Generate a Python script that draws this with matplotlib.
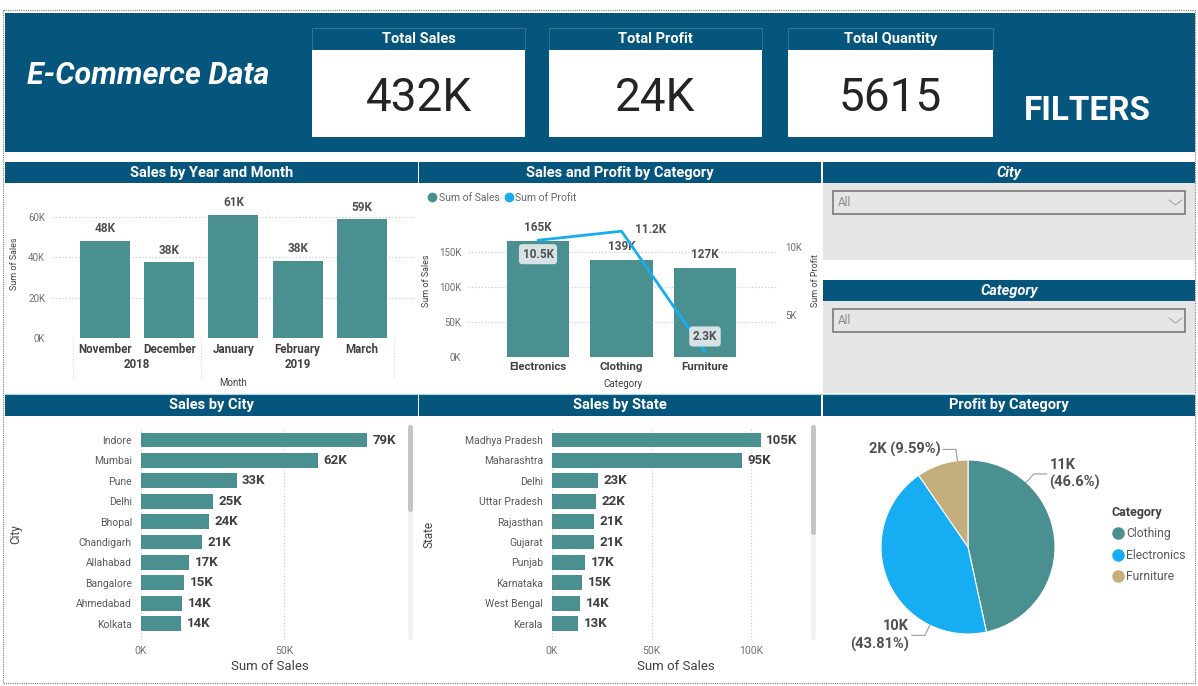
import matplotlib
matplotlib.use("Agg")
import matplotlib.pyplot as plt
from matplotlib.patches import Rectangle, FancyBboxPatch
from matplotlib.lines import Line2D
import numpy as np

plt.rcParams['font.family'] = ['Roboto', 'DejaVu Sans']

# ---- data ----
kpi_titles = ['Total Sales', 'Total Profit', 'Total Quantity']
kpi_values = ['432K', '24K', '5615']

months = ['November', 'December', 'January', 'February', 'March']
month_years = ['2018', '2018', '2019', '2019', '2019']
month_sales = [48.2, 37.6, 61.2, 38.3, 58.9]  # thousands

categories = ['Electronics', 'Clothing', 'Furniture']
cat_sales = [165.3, 138.7, 127.2]  # thousands
cat_profit = [10494, 11163, 2298]

cities = ['Indore', 'Mumbai', 'Pune', 'Delhi', 'Bhopal', 'Chandigarh',
          'Allahabad', 'Bangalore', 'Ahmedabad', 'Kolkata']
city_sales = [79.0, 61.9, 33.4, 25.2, 23.8, 21.3, 16.8, 15.0, 14.3, 14.0]

states = ['Madhya Pradesh', 'Maharashtra', 'Delhi', 'Uttar Pradesh', 'Rajasthan',
          'Gujarat', 'Punjab', 'Karnataka', 'West Bengal', 'Kerala']
state_sales = [104.8, 95.4, 22.9, 22.1, 21.1, 21.0, 16.6, 15.1, 14.1, 13.3]

pie_cats = ['Clothing', 'Electronics', 'Furniture']
pie_profit = [11163, 10494, 2298]

# ---- style ----
BLUE = '#05557d'
TEAL = '#4a9091'
LBLUE = '#16adf2'
TAN = '#c4ae7c'
TICK = '#707070'
LBL = '#404040'
SLICER = '#e6e6e6'

W, H = 1198, 686
fig = plt.figure(figsize=(W / 100, H / 100), dpi=100)
bg = fig.add_axes([0, 0, 1, 1])
bg.set_xlim(0, W)
bg.set_ylim(H, 0)
bg.axis('off')


def px_axes(x0, y0, x1, y1):
    return fig.add_axes([x0 / W, 1 - y1 / H, (x1 - x0) / W, (y1 - y0) / H])


def rect(x0, y0, x1, y1, **kw):
    bg.add_patch(Rectangle((x0, y0), x1 - x0, y1 - y0, **kw))


def kfmt(v):
    return f'{v:.0f}K'


# header
rect(5, 13, 1195, 152, fc=BLUE, ec='none')
bg.text(27, 75, 'E-Commerce Data', color='white', fontsize=22, weight='bold',
        style='italic', va='center')
bg.text(1024, 111, 'FILTERS', color='white', fontsize=24, weight='bold', va='center')
kpi_x = [(312, 525), (549, 762), (788, 993)]
for (x0, x1), t, v in zip(kpi_x, kpi_titles, kpi_values):
    rect(x0, 28, x1, 50, fc=BLUE, ec='#4a7f9f', lw=0.5)
    rect(x0, 50, x1, 137, fc='white', ec='none')
    bg.text((x0 + x1) / 2, 39, t, color='white', fontsize=10.5, weight='bold',
            ha='center', va='center')
    bg.text((x0 + x1) / 2, 98, v, color='#252423', fontsize=33,
            ha='center', va='center')

# title bars
bars_row1 = [(5, 418, 'Sales by Year and Month', 'normal'),
             (419, 821, 'Sales and Profit by Category', 'normal'),
             (823, 1195, 'City', 'italic')]
bars_row2 = [(5, 418, 'Sales by City', 'normal'),
             (419, 821, 'Sales by State', 'normal'),
             (823, 1195, 'Profit by Category', 'normal')]
for y0, row in [(162, bars_row1), (395, bars_row2)]:
    for x0, x1, t, st in row:
        rect(x0, y0, x1, y0 + 21, fc=BLUE, ec='none')
        bg.text((x0 + x1) / 2, y0 + 10.5, t, color='white', fontsize=10.5,
                weight='bold', style=st, ha='center', va='center')

# slicers
rect(823, 183, 1195, 260, fc=SLICER, ec='none')
rect(823, 280, 1195, 301, fc=BLUE, ec='none')
bg.text(1009, 290.5, 'Category', color='white', fontsize=10.5, weight='bold',
        style='italic', ha='center', va='center')
rect(823, 301, 1195, 393, fc=SLICER, ec='none')
for y0 in (191, 309):
    rect(833, y0, 1185, y0 + 23, fc=SLICER, ec='#7a7a7a', lw=1.2)
    bg.text(838, y0 + 12, 'All', color='#8a8a8a', fontsize=8.5, va='center')
    bg.plot([1169, 1175.5, 1182], [y0 + 9, y0 + 14, y0 + 9], color='#a0a0a0', lw=0.7)

bg.plot([5, 1195], [393.5, 393.5], color='#a9d6e0', lw=0.8)
bg.add_patch(Rectangle((3, 10), 1192, 673, fill=False, ec='#7a7a7a', lw=0.8,
                       ls=(0, (1, 1))))


def clean(ax):
    for s in ax.spines.values():
        s.set_visible(False)
    ax.tick_params(length=0)
    ax.set_facecolor('none')


# ---- Sales by Year and Month ----
ax1 = px_axes(52, 190, 415, 338)
x1 = np.arange(len(months))
ax1.bar(x1, month_sales, width=0.78, color=TEAL, zorder=2)
ax1.set_xlim(-(105 - 52) / 64.2, (415 - 105) / 64.2)
ax1.set_ylim(0, 60 * (338 - 190) / 121)
ax1.set_yticks([0, 20, 40, 60])
ax1.set_yticklabels(['0K', '20K', '40K', '60K'], fontsize=7, color=TICK)
ax1.set_xticks(x1)
ax1.set_xticklabels(months, fontsize=8.3, color=LBL, weight='semibold')
clean(ax1)
ax1.tick_params(axis='x', pad=3.5)
ax1.tick_params(axis='y', pad=5)
ax1.grid(axis='y', ls=(0, (1, 2)), color='#c8c8c8', lw=0.8, zorder=0)
for xi, v in zip(x1, month_sales):
    ax1.annotate(kfmt(v), (xi, v), xytext=(0, 4), textcoords='offset points',
                 ha='center', va='bottom', fontsize=8.5, weight='bold', color='#505050')
tr = ax1.get_xaxis_transform()
for yr in sorted(set(month_years)):
    idx = [i for i, y in enumerate(month_years) if y == yr]
    ax1.text(np.mean(idx), -0.176, yr, transform=tr, ha='center', va='center',
             fontsize=8.3, color=LBL, weight='semibold')
for xb in (-0.5, 1.5, 4.5):
    ax1.plot([xb, xb], [0, -0.27], transform=tr, clip_on=False,
             color='#d0d0d0', lw=0.7, ls=(0, (1, 2)))
ax1.set_xlabel('Month', fontsize=7, color=LBL)
ax1.xaxis.set_label_coords(0.5, -0.27)
ax1.set_ylabel('Sum of Sales', fontsize=6.5, color=LBL)
ax1.yaxis.set_label_coords(-0.09, 0.5)

# ---- Sales and Profit by Category ----
ax2 = px_axes(468, 205, 778, 357)
x2 = np.arange(len(categories))
ax2.bar(x2, cat_sales, width=0.75, color=TEAL, zorder=2)
ax2.set_xlim(-(538 - 468) / 83.5, (778 - 538) / 83.5)
ax2.set_ylim(0, 150 * (357 - 205) / 105)
ax2.set_yticks([0, 50, 100, 150])
ax2.set_yticklabels(['0K', '50K', '100K', '150K'], fontsize=7, color=TICK)
ax2.set_xticks(x2)
ax2.set_xticklabels(categories, fontsize=8.2, color=LBL, weight='semibold')
clean(ax2)
ax2.tick_params(axis='x', pad=3.5)
ax2.tick_params(axis='y', pad=5)
ax2.grid(axis='y', ls=(0, (1, 2)), color='#c8c8c8', lw=0.8, zorder=0)
for xi, v in zip(x2, cat_sales):
    ax2.annotate(kfmt(v), (xi, v), xytext=(0, 5), textcoords='offset points',
                 ha='center', va='bottom', fontsize=8.5, weight='bold', color='#505050')
ax2.set_xlabel('Category', fontsize=7, color=LBL)
ax2.xaxis.set_label_coords(0.5, -0.145)
ax2.set_ylabel('Sum of Sales', fontsize=6.5, color=LBL)
ax2.yaxis.set_label_coords(-0.12, 0.5)

ax2r = ax2.twinx()
profit_k = np.array(cat_profit) / 1000
ax2r.plot(x2, profit_k, color=LBLUE, lw=2, solid_capstyle='round', zorder=3)
ax2r.set_ylim((383 - 357) / 13.6, (383 - 205) / 13.6)
ax2r.set_yticks([5, 10])
ax2r.set_yticklabels(['5K', '10K'], fontsize=7, color=TICK)
clean(ax2r)
ax2r.tick_params(axis='y', pad=5)
ax2r.set_ylabel('Sum of Profit', fontsize=6.5, color=LBL)
ax2r.yaxis.set_label_coords(1.105, 0.5)
profit_offsets = [(0, -10, 'center'), (10, 1, 'left'), (0, 11, 'center')]
profit_boxed = [True, False, True]
for xi, v, (dx, dy, ha), boxed in zip(x2, profit_k, profit_offsets, profit_boxed):
    bb = dict(boxstyle='round,pad=0.3', fc='#d7e2e6', ec='none') if boxed else None
    ax2r.annotate(f'{v:.1f}K', (xi, v), xytext=(dx, dy), textcoords='offset points',
                  ha=ha, va='center', fontsize=8.5, weight='bold', color='#505050',
                  bbox=bb, zorder=4)
leg_h = [Line2D([], [], marker='o', ls='', color=TEAL, ms=6),
         Line2D([], [], marker='o', ls='', color=LBLUE, ms=6)]
ax2r.legend(leg_h, ['Sum of Sales', 'Sum of Profit'], loc='center left',
            bbox_to_anchor=(421 / W, 1 - 198 / H), bbox_transform=fig.transFigure,
            ncol=2, frameon=False, fontsize=7.5, labelcolor='#666666',
            handletextpad=0.0, columnspacing=0.3, handlelength=1.2, borderpad=0)


# ---- horizontal bar charts ----
def hbar(box, names, vals, xmax_px50, ticks, ylabel, ylabel_x, scroll_x, thumb_end):
    x0, y0, x1, y1 = box
    ax = px_axes(x0, y0, x1, y1)
    y = np.arange(len(names))
    ax.barh(y, vals, height=0.73, color=TEAL, zorder=2)
    ax.set_ylim((y1 - 440) / 20.4, (y0 - 440) / 20.4)
    ax.set_xlim(0, 50 * (x1 - x0) / xmax_px50)
    ax.set_yticks(y)
    ax.set_yticklabels(names, fontsize=7.5, color='#5a5a5a')
    ax.set_xticks(ticks)
    ax.set_xticklabels([kfmt(t) for t in ticks], fontsize=7.5, color=TICK)
    clean(ax)
    ax.tick_params(axis='y', pad=6.5)
    ax.tick_params(axis='x', pad=4)
    ax.grid(axis='x', ls=(0, (1, 2)), color='#c8c8c8', lw=0.8, zorder=0)
    for yi, v in zip(y, vals):
        ax.annotate(kfmt(v), (v, yi), xytext=(4, 0), textcoords='offset points',
                    ha='left', va='center', fontsize=9.5, weight='bold', color=LBL)
    ax.set_xlabel('Sum of Sales', fontsize=9.5, color=LBL)
    ax.xaxis.set_label_coords(0.49, -0.095)
    ax.set_ylabel(ylabel, fontsize=8.5, color=LBL)
    ax.yaxis.set_label_coords(ylabel_x, 0.5)
    bg.add_patch(FancyBboxPatch((scroll_x, 425), 5, 215, boxstyle='round,pad=0,rounding_size=2.5',
                                fc='#f2f2f2', ec='none'))
    bg.add_patch(FancyBboxPatch((scroll_x, 425), 5, thumb_end - 425,
                                boxstyle='round,pad=0,rounding_size=2.5',
                                fc='#c4c4c4', ec='none'))
    return ax


hbar((141, 428, 405, 640), cities, city_sales, 143, [0, 50], 'City', -0.45, 408, 512)
hbar((552, 428, 805, 640), states, state_sales, 99.5, [0, 50, 100], 'State', -0.46, 811, 535)

# ---- Profit by Category pie ----
ax5 = px_axes(881, 460, 1055, 634)
ax5.pie(pie_profit, colors=[TEAL, LBLUE, TAN], startangle=90, counterclock=False,
        wedgeprops=dict(ec='white', lw=0.8))
ax5.set_xlim(-1, 1)
ax5.set_ylim(-1, 1)
total = sum(pie_profit)
label_angles = [48, 244, 97]
label_seps = ['\n', '\n', ' ']
for v, ang, sep in zip(pie_profit, label_angles, label_seps):
    pct = f'{100 * v / total:.2f}'.rstrip('0').rstrip('.')
    txt = f'{v / 1000:.0f}K{sep}({pct}%)'
    a = np.radians(ang)
    ex, ey = np.cos(a), np.sin(a)
    bx, by = 1.13 * ex, 1.13 * ey
    side = 1 if ex > 0 else -1
    hx = bx + side * 0.15
    ax5.plot([ex, bx, hx], [ey, by, by], color='#9a9a9a', lw=0.8, clip_on=False)
    ax5.text(hx + side * 0.03, by, txt, ha='left' if side > 0 else 'right',
             va='center', fontsize=10.5, weight='bold', color='#505050',
             multialignment='left' if side > 0 else 'right', linespacing=1.3)
pie_h = [Line2D([], [], marker='o', ls='', color=c, ms=8) for c in [TEAL, LBLUE, TAN]]
ax5.legend(pie_h, pie_cats, loc='upper left', bbox_to_anchor=(1105 / W, 1 - 500 / H),
           bbox_transform=fig.transFigure, frameon=False, title='Category',
           alignment='left', fontsize=8.7, labelcolor='#5a5a5a',
           title_fontproperties={'weight': 'bold', 'size': 9},
           handletextpad=0.05, handlelength=1.2, labelspacing=0.7, borderpad=0)
ax5.get_legend().get_title().set_color(LBL)

fig.savefig('out.png', dpi=100)
